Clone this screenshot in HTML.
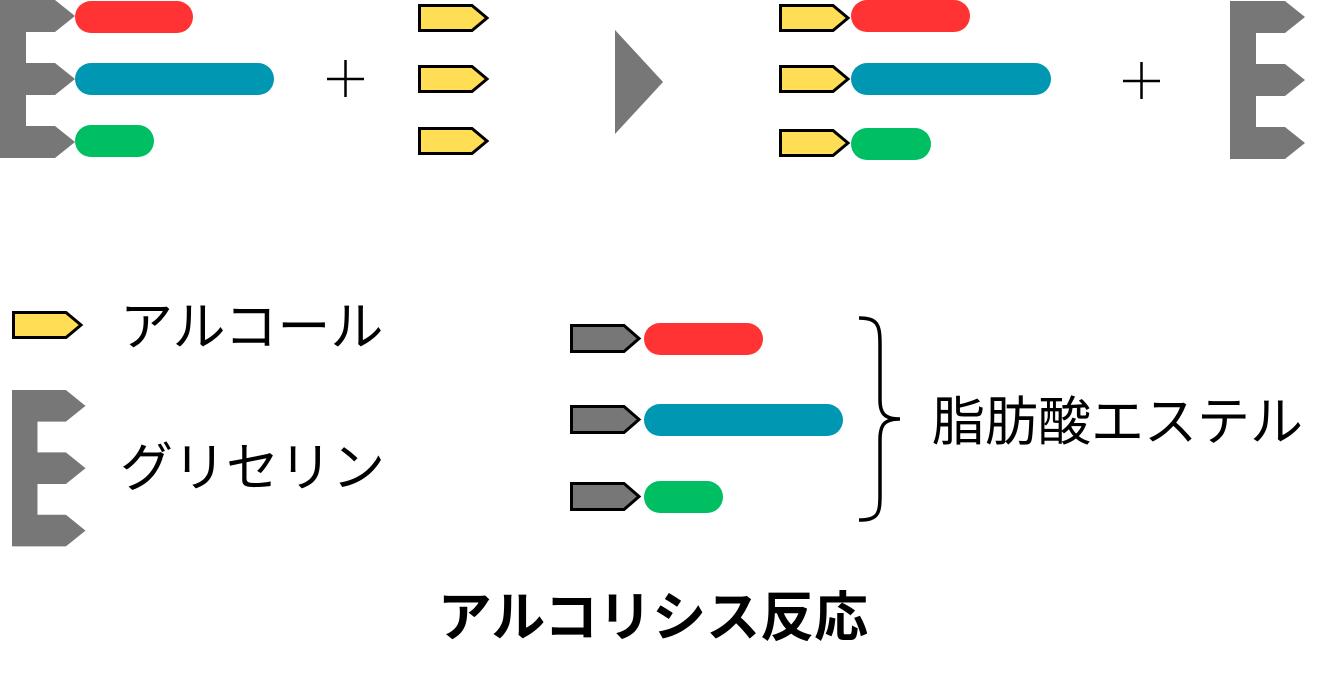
<!DOCTYPE html>
<html><head><meta charset="utf-8"><style>
body{margin:0;background:#fff;width:1343px;height:687px;overflow:hidden}
svg{display:block}
text{font-family:"Liberation Sans","Noto Sans CJK JP",sans-serif;fill:#000}
</style></head><body>
<svg width="1343" height="687" viewBox="0 0 1343 687">
<defs>
<g id="alc"><polygon points="1.5,1.5 54,1.5 69,14 54,26.5 1.5,26.5" fill="#ffdd55" stroke="#000" stroke-width="3"/></g>
<g id="est"><polygon points="1.5,1.5 54,1.5 69,14.5 54,27.5 1.5,27.5" fill="#777" stroke="#000" stroke-width="3"/></g>
<g id="gly"><polygon points="0,0 55,0 75,16 55,32 26,32 26,63 55,63 75,79 55,95 26,95 26,126 55,126 75,142 55,158 0,158" fill="#777"/></g>
</defs>
<use href="#gly" x="0" y="0"/>
<rect x="75" y="1" width="118" height="32" rx="16" fill="#ff3333"/>
<rect x="75" y="63" width="199" height="32" rx="16" fill="#0097b2"/>
<rect x="75" y="125" width="79" height="32" rx="16" fill="#00bf63"/>
<path d="M327,79 H364 M345.5,60 V97" stroke="#000" stroke-width="2.5"/>
<use href="#alc" x="418" y="4"/>
<use href="#alc" x="418" y="65"/>
<use href="#alc" x="418" y="127"/>
<polygon points="615,30 663,82 615,134" fill="#777"/>
<use href="#alc" x="779" y="4"/>
<use href="#alc" x="779" y="65"/>
<use href="#alc" x="779" y="129"/>
<rect x="851" y="0" width="119" height="32" rx="16" fill="#ff3333"/>
<rect x="851" y="63" width="200" height="32" rx="16" fill="#0097b2"/>
<rect x="851" y="128" width="80" height="32" rx="16" fill="#00bf63"/>
<path d="M1123,81 H1160 M1141.5,62 V99" stroke="#000" stroke-width="2.5"/>
<use href="#gly" x="1230" y="1"/>
<use href="#alc" x="12" y="311"/>
<text x="120" y="345" font-size="53" font-weight="normal">アルコール</text>
<g transform="translate(12,390) scale(0.98,0.99)"><use href="#gly"/></g>
<text x="120" y="486" font-size="53" font-weight="normal">グリセリン</text>
<use href="#est" x="570" y="324"/>
<use href="#est" x="570" y="405"/>
<use href="#est" x="570" y="482"/>
<rect x="644" y="323" width="119" height="32" rx="16" fill="#ff3333"/>
<rect x="644" y="404" width="199" height="32" rx="16" fill="#0097b2"/>
<rect x="644" y="481" width="79" height="32" rx="16" fill="#00bf63"/>
<path d="M859,318 C878,318 880,325 880,345 L880,400 C880,413 884,419 900,419 C884,419 880,425 880,440 L880,495 C880,514 878,520 859,520" fill="none" stroke="#000" stroke-width="3.5"/>
<text x="932" y="440" font-size="53" font-weight="normal">脂肪酸エステル</text>
<text x="653" y="636" font-size="54" font-weight="bold" text-anchor="middle">アルコリシス反応</text>
</svg>
</body></html>
